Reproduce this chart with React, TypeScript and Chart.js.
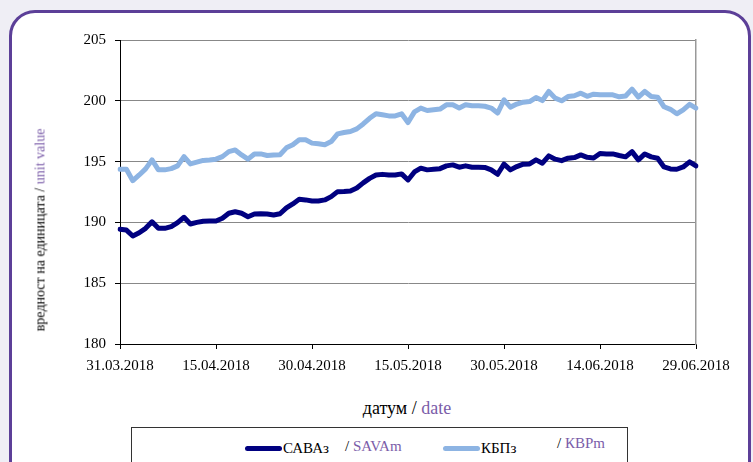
import React, { useEffect, useRef } from "react";
import { Chart, registerables } from "chart.js";

Chart.register(...registerables);

const dates: string[] = [
  "31.03.2018",
  "01.04.2018", "02.04.2018", "03.04.2018", "04.04.2018", "05.04.2018", "06.04.2018", "07.04.2018", "08.04.2018", "09.04.2018", "10.04.2018",
  "11.04.2018", "12.04.2018", "13.04.2018", "14.04.2018", "15.04.2018", "16.04.2018", "17.04.2018", "18.04.2018", "19.04.2018", "20.04.2018",
  "21.04.2018", "22.04.2018", "23.04.2018", "24.04.2018", "25.04.2018", "26.04.2018", "27.04.2018", "28.04.2018", "29.04.2018", "30.04.2018",
  "01.05.2018", "02.05.2018", "03.05.2018", "04.05.2018", "05.05.2018", "06.05.2018", "07.05.2018", "08.05.2018", "09.05.2018", "10.05.2018",
  "11.05.2018", "12.05.2018", "13.05.2018", "14.05.2018", "15.05.2018", "16.05.2018", "17.05.2018", "18.05.2018", "19.05.2018", "20.05.2018",
  "21.05.2018", "22.05.2018", "23.05.2018", "24.05.2018", "25.05.2018", "26.05.2018", "27.05.2018", "28.05.2018", "29.05.2018", "30.05.2018",
  "31.05.2018",
  "01.06.2018", "02.06.2018", "03.06.2018", "04.06.2018", "05.06.2018", "06.06.2018", "07.06.2018", "08.06.2018", "09.06.2018", "10.06.2018",
  "11.06.2018", "12.06.2018", "13.06.2018", "14.06.2018", "15.06.2018", "16.06.2018", "17.06.2018", "18.06.2018", "19.06.2018", "20.06.2018",
  "21.06.2018", "22.06.2018", "23.06.2018", "24.06.2018", "25.06.2018", "26.06.2018", "27.06.2018", "28.06.2018", "29.06.2018",
];

const tickLabels: string[] = [
  "31.03.2018", "15.04.2018", "30.04.2018", "15.05.2018", "30.05.2018", "14.06.2018", "29.06.2018",
];

const savaValues: number[] = [
  189.43, 189.37, 188.88, 189.15, 189.51, 190.05, 189.51, 189.51, 189.65, 189.98,
  190.42, 189.87, 190.0, 190.1, 190.12, 190.12, 190.34, 190.75, 190.88, 190.75,
  190.47, 190.69, 190.72, 190.69, 190.61, 190.71, 191.19, 191.52, 191.9, 191.85,
  191.76, 191.76, 191.85, 192.12, 192.53, 192.55, 192.59, 192.83, 193.25, 193.62,
  193.9, 193.95, 193.9, 193.9, 193.99, 193.49, 194.15, 194.46, 194.32, 194.37,
  194.42, 194.65, 194.73, 194.54, 194.65, 194.54, 194.54, 194.52, 194.32, 193.96,
  194.79, 194.32, 194.59, 194.79, 194.81, 195.14, 194.87, 195.47, 195.2, 195.08,
  195.28, 195.33, 195.55, 195.35, 195.3, 195.67, 195.63, 195.63, 195.5, 195.39,
  195.82, 195.14, 195.63, 195.39, 195.28, 194.56, 194.4, 194.37, 194.56, 194.98,
  194.65,
];

const kbpValues: number[] = [
  194.37, 194.37, 193.43, 193.9, 194.4, 195.14, 194.32, 194.32, 194.42, 194.65,
  195.41, 194.81, 194.95, 195.1, 195.14, 195.2, 195.41, 195.82, 195.96, 195.55,
  195.2, 195.63, 195.63, 195.5, 195.55, 195.57, 196.13, 196.38, 196.79, 196.79,
  196.52, 196.46, 196.38, 196.65, 197.28, 197.39, 197.47, 197.69, 198.1, 198.56,
  198.93, 198.85, 198.76, 198.76, 198.93, 198.21, 199.09, 199.4, 199.2, 199.26,
  199.32, 199.67, 199.67, 199.4, 199.67, 199.59, 199.59, 199.55, 199.4, 198.99,
  200.08, 199.48, 199.73, 199.89, 199.94, 200.27, 200.02, 200.77, 200.22, 200.0,
  200.35, 200.41, 200.63, 200.37, 200.54, 200.49, 200.49, 200.49, 200.33, 200.39,
  200.96, 200.3, 200.77, 200.35, 200.3, 199.51, 199.3, 198.93, 199.26, 199.71,
  199.4,
];

const seriesNames: string[] = ["САВАз", "КБПз"];

const NAVY = "#000080";
const LIGHT = "#8DB4E3";
const PURPLE_TEXT = "#7B5DA9";
const PURPLE_BORDER = "#5C3F98";
const FONT = '"Liberation Serif", "Times New Roman", serif';

export default function App() {
  const canvasRef = useRef<HTMLCanvasElement | null>(null);

  useEffect(() => {
    if (!canvasRef.current) return;
    const chart = new Chart(canvasRef.current, {
      type: "line",
      data: {
        labels: dates,
        datasets: [
          {
            label: seriesNames[0],
            data: savaValues,
            borderColor: NAVY,
            backgroundColor: NAVY,
            borderWidth: 5,
            pointRadius: 0,
            tension: 0,
            borderJoinStyle: "round",
            borderCapStyle: "round",
          },
          {
            label: seriesNames[1],
            data: kbpValues,
            borderColor: LIGHT,
            backgroundColor: LIGHT,
            borderWidth: 5,
            pointRadius: 0,
            tension: 0,
            borderJoinStyle: "round",
            borderCapStyle: "round",
          },
        ],
      },
      options: {
        responsive: false,
        animation: false,
        devicePixelRatio: 1,
        layout: { padding: { left: 0, right: 57, top: 40, bottom: 0 } },
        plugins: {
          legend: { display: false },
          tooltip: { enabled: false },
        },
        scales: {
          x: {
            type: "category",
            offset: false,
            border: { display: true, color: "#000", width: 1 },
            grid: {
              drawOnChartArea: false,
              drawTicks: true,
              tickLength: 5,
              color: (ctx: any) =>
                tickLabels.includes(dates[ctx.index]) ? "#000" : "rgba(0,0,0,0)",
            },
            ticks: {
              autoSkip: false,
              maxRotation: 0,
              minRotation: 0,
              padding: 8,
              color: "#000",
              font: { family: FONT, size: 15 },
              callback: (_v: any, i: number) =>
                tickLabels.includes(dates[i]) ? dates[i] : "",
            },
            afterFit: (scale: any) => {
              scale.height = 46;
            },
          },
          y: {
            min: 180,
            max: 205,
            border: { display: true, color: "#000", width: 1 },
            grid: {
              color: "#888",
              lineWidth: 1,
              tickLength: 5,
              tickColor: "#000",
            },
            ticks: {
              stepSize: 5,
              padding: 9,
              color: "#000",
              font: { family: FONT, size: 15 },
            },
            afterFit: (scale: any) => {
              scale.width = 120;
            },
          },
          y2: {
            position: "right",
            min: 180,
            max: 205,
            border: { display: true, color: "#999", width: 1.5 },
            grid: { drawOnChartArea: false, drawTicks: false },
            ticks: { display: false },
            afterFit: (scale: any) => {
              scale.width = 0;
            },
          },
        },
      },
    });
    return () => chart.destroy();
  }, []);

  const textBase: React.CSSProperties = {
    position: "absolute",
    fontFamily: FONT,
    fontSize: 15,
    lineHeight: "17px",
    whiteSpace: "nowrap",
    color: "#000",
  };

  return (
    <div
      style={{
        position: "fixed",
        left: 0,
        top: 0,
        width: 753,
        height: 462,
        background: "#EFEEF5",
        overflow: "hidden",
      }}
    >
      <div
        style={{
          position: "absolute",
          left: 9,
          top: 10,
          width: 742,
          height: 520,
          boxSizing: "border-box",
          border: `3px solid ${PURPLE_BORDER}`,
          borderRadius: 26,
          background: "#fff",
        }}
      />
      <canvas
        ref={canvasRef}
        width={753}
        height={390}
        style={{ position: "absolute", left: 0, top: 0, width: 753, height: 390 }}
      />
      {/* y axis title */}
      <div
        style={{
          ...textBase,
          fontSize: 14,
          left: 40,
          top: 230,
          transform: "translate(-50%, -50%) rotate(-90deg)",
        }}
      >
        вредност на единицата / <span style={{ color: PURPLE_TEXT }}>unit value</span>
      </div>
      {/* x axis title */}
      <div
        style={{
          ...textBase,
          fontSize: 18,
          lineHeight: "20px",
          left: 407,
          top: 398,
          transform: "translateX(-50%)",
        }}
      >
        датум / <span style={{ color: PURPLE_TEXT }}>date</span>
      </div>
      {/* legend */}
      <div
        style={{
          position: "absolute",
          left: 131,
          top: 427,
          width: 497,
          height: 60,
          boxSizing: "border-box",
          border: "1px solid #333",
          background: "#fff",
        }}
      />
      <div
        style={{
          position: "absolute",
          left: 245,
          top: 446,
          width: 37,
          height: 5,
          borderRadius: 3,
          background: NAVY,
        }}
      />
      <div style={{ ...textBase, left: 283, top: 440 }}>{seriesNames[0]}</div>
      <div style={{ ...textBase, left: 345, top: 438 }}>
        / <span style={{ color: PURPLE_TEXT }}>SAVAm</span>
      </div>
      <div
        style={{
          position: "absolute",
          left: 443,
          top: 446,
          width: 37,
          height: 5,
          borderRadius: 3,
          background: LIGHT,
        }}
      />
      <div style={{ ...textBase, left: 481, top: 440 }}>{seriesNames[1]}</div>
      <div style={{ ...textBase, left: 557, top: 435 }}>
        / <span style={{ color: PURPLE_TEXT }}>КВРm</span>
      </div>
    </div>
  );
}
